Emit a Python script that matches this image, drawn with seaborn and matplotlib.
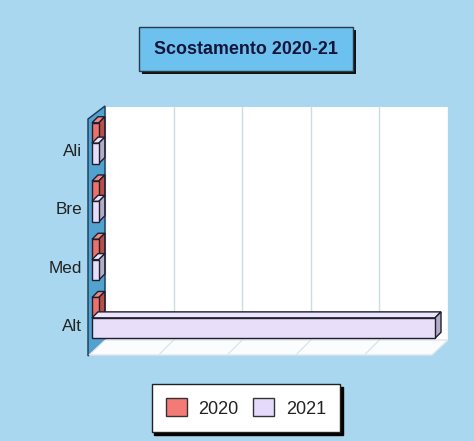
import matplotlib
matplotlib.use("Agg")
import matplotlib.pyplot as plt
import matplotlib.patches as mpatches
import numpy as np
import pandas as pd
import seaborn as sns

# data (no value labels on the x axis)
categories = ['Ali', 'Bre', 'Med', 'Alt']
val_2020 = [0.1, 0.1, 0.1, 0.1]
val_2021 = [0.1, 0.1, 0.1, 5.0]
years = ['2020', '2021']

df = pd.DataFrame({
    'cat': categories * 2,
    'val': val_2020 + val_2021,
    'anno': [years[0]] * 4 + [years[1]] * 4,
})

W, H = 474, 441
bg = '#a8d7ef'
col_front = {'2020': '#ee7068', '2021': '#e8defa'}
col_top = {'2020': '#f08a80', '2021': '#ece4fb'}
col_side = {'2020': '#b85048', '2021': '#b4acc6'}

sns.set_theme(style='white')
plt.rcParams['font.family'] = ['Liberation Sans', 'DejaVu Sans']

fig = plt.figure(figsize=(W / 100, H / 100), dpi=100, facecolor=bg)


def fr(x, y):
    # image pixel -> figure fraction
    return (x / W, 1 - y / H)


# back wall = the axes
ax = fig.add_axes([105 / W, 1 - 340 / H, 343 / W, 233 / H])
ax.set_facecolor('white')
sns.barplot(data=df, y='cat', x='val', hue='anno', hue_order=years,
            order=categories, orient='h', width=0.7, ax=ax,
            legend=False, saturation=1)
ax.set_xlim(0, 5)
ax.set_ylim(3.5, -0.5)
ax.set_xticks(np.arange(0, 6))
ax.set_xticklabels([])
ax.grid(axis='x', color='#c9dde2', lw=1)
ax.grid(axis='y', visible=False)
for s in ax.spines.values():
    s.set_visible(False)
ax.set_xlabel('')
ax.set_ylabel('')
ax.set_yticks(np.arange(4) + 0.24)
ax.set_yticklabels(categories, fontsize=12.3, color='#222222')
ax.tick_params(axis='y', length=0, pad=16.5)
ax.tick_params(axis='x', length=0)

# left wall and floor of the 3d box
wall = mpatches.Polygon([fr(88, 119), fr(105, 106), fr(105, 340), fr(88, 356)],
                        closed=True, transform=fig.transFigure,
                        facecolor='#52a2d0', edgecolor='#1c3450', lw=1, zorder=1)
fig.add_artist(wall)
floor = mpatches.Polygon([fr(105, 340), fr(448, 340), fr(432, 355), fr(89, 355)],
                         closed=True, transform=fig.transFigure,
                         facecolor='#fbfcfd', edgecolor='#dde6ea', lw=1, zorder=1)
fig.add_artist(floor)
for t in range(1, 5):
    gx = ax.transData.transform((t, 0))[0]
    fig.add_artist(plt.Line2D([gx / W, (gx - 14) / W], [1 - 340 / H, 1 - 354 / H],
                              transform=fig.transFigure, color='#d6e2e6', lw=0.8, zorder=1.1))

# redraw seaborn bars as 3d blocks
fig.canvas.draw()
dx, dy = -13, 7      # front face offset from the back wall (image px)
ddx, ddy = 6, -6     # depth of each block
bars = [p for p in ax.patches if isinstance(p, mpatches.Rectangle)]
blocks = []
for k, p in enumerate(bars):
    yr = years[k // len(categories)]
    x0, y0 = p.get_x(), p.get_y()
    w, h = p.get_width(), p.get_height()
    (ax0, ay0) = ax.transData.transform((x0, y0))
    (ax1, ay1) = ax.transData.transform((x0 + w, y0 + h))
    left, right = ax0 + dx, ax1 + dx
    top, bottom = H - max(ay0, ay1) + dy, H - min(ay0, ay1) + dy
    blocks.append((top, yr, left, right, bottom))
    p.set_visible(False)

for top, yr, left, right, bottom in sorted(blocks):
    kw = dict(closed=True, transform=fig.transFigure, edgecolor='#1e1e2e', lw=1, zorder=3)
    fig.add_artist(mpatches.Polygon([fr(left, top), fr(right, top), fr(right + ddx, top + ddy),
                                     fr(left + ddx, top + ddy)], facecolor=col_top[yr], **kw))
    fig.add_artist(mpatches.Polygon([fr(right, top), fr(right + ddx, top + ddy),
                                     fr(right + ddx, bottom + ddy), fr(right, bottom)],
                                    facecolor=col_side[yr], **kw))
    fig.add_artist(mpatches.Polygon([fr(left, top), fr(right, top), fr(right, bottom),
                                     fr(left, bottom)], facecolor=col_front[yr], **kw))

# title box with shadow
fig.add_artist(mpatches.Rectangle(fr(142, 74), 214 / W, 44 / H, transform=fig.transFigure,
                                  facecolor='#111111', lw=0, zorder=4))
fig.add_artist(mpatches.Rectangle(fr(139, 71), 214 / W, 44 / H, transform=fig.transFigure,
                                  facecolor='#6dc1ee', edgecolor='#2a3a4a', lw=1, zorder=5))
fig.text(246 / W, 1 - 49 / H, 'Scostamento 2020-21', ha='center', va='center',
         fontsize=12.9, fontweight='bold', color='#15153a', zorder=6)

# legend
handles = [mpatches.Patch(facecolor='#f47a78', edgecolor='#333333', label='2020'),
           mpatches.Patch(facecolor='#e6dafc', edgecolor='#333333', label='2021')]
leg = fig.legend(handles=handles, loc='center', bbox_to_anchor=fr(246, 408), ncol=2,
                 fontsize=13, frameon=True, fancybox=False, shadow={'color': 'black', 'alpha': 1},
                 handlelength=1.15, handleheight=1.15, handletextpad=0.65,
                 columnspacing=0.8, borderpad=0.8)
leg.get_frame().set_facecolor('white')
leg.get_frame().set_edgecolor('#222222')
leg.get_frame().set_alpha(1)
for t in leg.get_texts():
    t.set_color('#222222')

fig.savefig('out.png', dpi=100, facecolor=bg)
